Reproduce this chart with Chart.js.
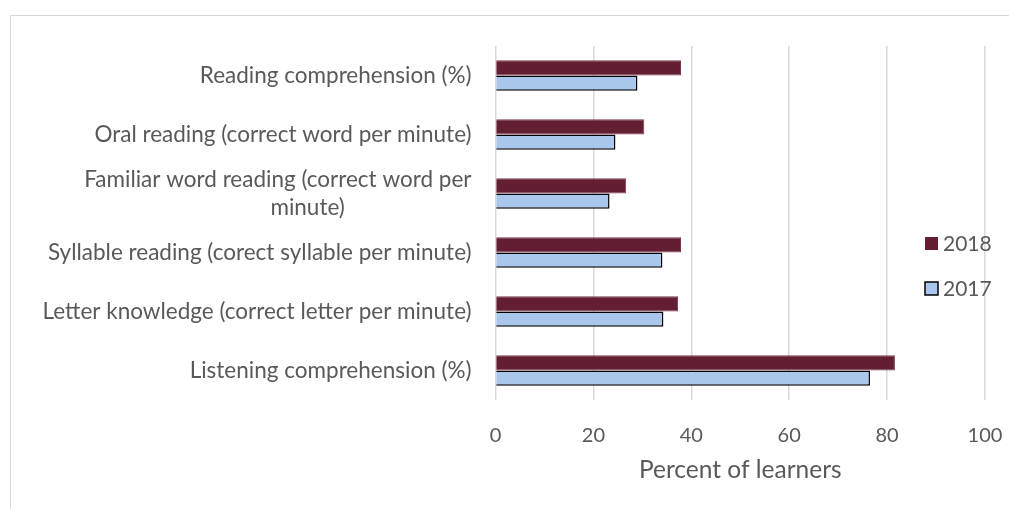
<!DOCTYPE html>
<html>
<head>
<meta charset="utf-8">
<script src="https://cdn.jsdelivr.net/npm/chart.js@4.4.1/dist/chart.umd.min.js"></script>
<style>
    html, body { margin: 0; padding: 0; background: #fff; }
    #wrap { position: relative; width: 1009px; height: 509px; overflow: hidden; }
    #frame { position: absolute; left: 10px; top: 15px; width: 1100px; height: 600px;
             border-top: 1px solid #d9d9d9; border-left: 1px solid #d9d9d9; }
    canvas { position: absolute; left: 0; top: 0; }
</style>
</head>
<body>
<div id="wrap">
    <div id="frame"></div>
    <canvas id="chart" width="1009" height="509"></canvas>
</div>
<script>
// categories, top to bottom
const categories = [
    'Reading comprehension (%)',
    'Oral reading (correct word per minute)',
    ['Familiar word reading (correct word per', 'minute)'],
    'Syllable reading (corect syllable per minute)',
    'Letter knowledge (correct letter per minute)',
    'Listening comprehension (%)'
];
const seriesNames = ['2018', '2017'];
const values2018 = [37.9, 30.4, 26.7, 37.9, 37.3, 81.6];
const values2017 = [29.0, 24.5, 23.3, 34.1, 34.3, 76.5];
const xTicks = [0, 20, 40, 60, 80, 100];
const xTitle = 'Percent of learners';

const FONT = 'Lato, Calibri, Carlito, sans-serif';
const LABEL_SIZE = 22.5;
const TEXT = '#595959';
const C2018 = '#641e32';
const C2017 = '#a9c7ec';

// Excel-style overlay legend, sits on top of the plot on the right side
const overlayLegend = {
    id: 'overlayLegend',
    afterDraw(chart) {
        const ctx = chart.ctx;
        const area = chart.chartArea;
        const x = area.right - 60;
        const rows = [243, 288];
        ctx.save();
        ctx.font = '21px ' + FONT;
        ctx.textBaseline = 'middle';
        chart.data.datasets.forEach((ds, i) => {
            const y = rows[i];
            ctx.fillStyle = ds.backgroundColor;
            ctx.fillRect(x, y - 6, 13, 13);
            if (ds.borderColor === '#000') {
                ctx.lineWidth = 1.5;
                ctx.strokeStyle = '#000';
                ctx.strokeRect(x, y - 6, 13, 13);
            }
            ctx.fillStyle = TEXT;
            ctx.fillText(ds.label, x + 18, y + 1);
        });
        ctx.restore();
    }
};

// Excel centres the wrapped second line a bit; pad it with trailing spaces
const measureCtx = document.createElement('canvas').getContext('2d');
measureCtx.font = LABEL_SIZE + 'px ' + FONT;
function padLine(line, shift) {
    const sp = measureCtx.measureText(' ').width;
    return line + ' '.repeat(Math.round(shift / sp));
}

new Chart(document.getElementById('chart'), {
    type: 'bar',
    data: {
        labels: categories,
        datasets: [
            {
                label: seriesNames[0],
                data: values2018,
                backgroundColor: C2018,
                borderColor: '#7d3a4e',
                borderWidth: 1,
                categoryPercentage: 0.52,
                barPercentage: 1
            },
            {
                label: seriesNames[1],
                data: values2017,
                backgroundColor: C2017,
                borderColor: '#000',
                borderWidth: 1.5,
                categoryPercentage: 0.52,
                barPercentage: 1
            }
        ]
    },
    options: {
        indexAxis: 'y',
        responsive: false,
        animation: false,
        layout: { padding: { left: 10, top: 46, right: 24, bottom: 0 } },
        scales: {
            x: {
                min: 0,
                max: 100,
                afterBuildTicks: (scale) => { scale.ticks = xTicks.map(v => ({ value: v })); },
                afterFit: (scale) => { scale.height = 109; },
                // invisible tick marks push the labels down without widening the side padding
                grid: { color: '#d9d9d9', lineWidth: 1.5, drawTicks: true, tickLength: 24, tickColor: 'rgba(0,0,0,0)' },
                border: { display: false },
                ticks: { color: TEXT, font: { family: FONT, size: 20 }, padding: 0 },
                title: {
                    display: true,
                    text: xTitle,
                    color: TEXT,
                    font: { family: FONT, size: 24.5 },
                    padding: { top: 6, bottom: 24 }
                }
            },
            y: {
                afterFit: (scale) => { scale.width = 485.5; },
                grid: { display: false, drawTicks: false },
                border: { display: false },
                ticks: {
                    color: TEXT,
                    autoSkip: false,
                    font: { family: FONT, size: LABEL_SIZE, lineHeight: 1.25 },
                    padding: 24,
                    callback: function (value) {
                        const raw = categories[value];
                        if (Array.isArray(raw)) {
                            return [raw[0], padLine(raw[1], 125)];
                        }
                        return raw;
                    }
                }
            }
        },
        plugins: {
            legend: { display: false },
            tooltip: { enabled: false }
        }
    },
    plugins: [overlayLegend]
});
</script>
</body>
</html>
